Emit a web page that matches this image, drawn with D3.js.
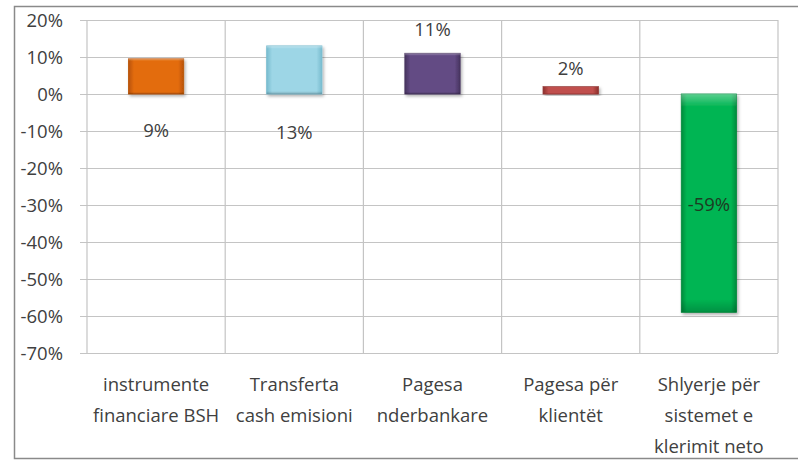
<!DOCTYPE html>
<html>
<head>
<meta charset="utf-8">
<script src="https://cdn.jsdelivr.net/npm/d3@7"></script>
<style>
  body { margin: 0; background: #fff; }
  text { font-family: "Open Sans", Lato, sans-serif; fill: #404040; }
</style>
</head>
<body>
<div id="chart"></div>
<script>
// categories (x axis), one label line per entry
var categories = [
  ["instrumente", "financiare BSH"],
  ["Transferta", "cash emisioni"],
  ["Pagesa", "nderbankare"],
  ["Pagesa për", "klientët"],
  ["Shlyerje për", "sistemet e", "klerimit neto"]
];
var values = [9.5, 13, 11, 2, -59];
var valueLabels = ["9%", "13%", "11%", "2%", "-59%"];
var yTicks = [20, 10, 0, -10, -20, -30, -40, -50, -60, -70];

// where excel put each data label (in axis units)
var labelAt = [-10, -10.5, 17.3, 6.8, -30];

var barColors = [
  ["#b85206", "#f08a2c", "#e36c0a"],
  ["#78bccf", "#c2e8f2", "#9dd6e6"],
  ["#46335f", "#8a74ad", "#634b84"],
  ["#8e302d", "#dc7672", "#c0504d"],
  ["#008a3c", "#3ad67a", "#00b552"]
];

var W = 798, H = 460;
var plotLeft = 87, plotRight = 778, plotTop = 20, plotBottom = 353;
var fontSize = "18.5px";

var svg = d3.select("#chart").append("svg")
  .attr("width", W).attr("height", H);

// outer frame
svg.append("rect")
  .attr("x", 14.5).attr("y", 6.5)
  .attr("width", W + 10).attr("height", 452)
  .attr("fill", "none").attr("stroke", "#8a8a8a").attr("stroke-width", 1.5);

var x = d3.scaleBand()
  .domain(d3.range(categories.length))
  .range([plotLeft, plotRight])
  .padding(0);

var y = d3.scaleLinear()
  .domain([-70, 20])
  .range([plotBottom, plotTop]);

// gradients + shadow
var defs = svg.append("defs");
barColors.forEach(function(c, i) {
  var g = defs.append("linearGradient")
    .attr("id", "grad" + i)
    .attr("x1", "0").attr("x2", "1").attr("y1", "0").attr("y2", "0");
  g.append("stop").attr("offset", "0").attr("stop-color", c[0]);
  g.append("stop").attr("offset", "0.1").attr("stop-color", c[2]);
  g.append("stop").attr("offset", "0.9").attr("stop-color", c[2]);
  g.append("stop").attr("offset", "1").attr("stop-color", c[0]);
});
var bevel = defs.append("linearGradient")
  .attr("id", "bevel")
  .attr("x1", "0").attr("x2", "0").attr("y1", "0").attr("y2", "1");
bevel.append("stop").attr("offset", "0").attr("stop-color", "#fff").attr("stop-opacity", 0.35);
bevel.append("stop").attr("offset", "0.06").attr("stop-color", "#fff").attr("stop-opacity", 0);
bevel.append("stop").attr("offset", "0.94").attr("stop-color", "#000").attr("stop-opacity", 0);
bevel.append("stop").attr("offset", "1").attr("stop-color", "#000").attr("stop-opacity", 0.2);
defs.append("filter").attr("id", "shadow")
  .attr("x", "-20%").attr("y", "-20%").attr("width", "140%").attr("height", "140%")
  .append("feDropShadow")
  .attr("dx", 1.5).attr("dy", 2).attr("stdDeviation", 1.5)
  .attr("flood-color", "#000").attr("flood-opacity", 0.3);

// y axis + horizontal gridlines
var yAxis = svg.append("g")
  .attr("transform", "translate(80,0)")
  .call(d3.axisLeft(y)
    .tickValues(yTicks)
    .tickSize(-(plotRight - 80))
    .tickPadding(17)
    .tickFormat(function(d) { return d + "%"; }));
yAxis.select(".domain").remove();
yAxis.selectAll("line").attr("stroke", "#c4c4c4").attr("stroke-width", 1.2);
yAxis.selectAll("text")
  .style("font-size", fontSize)
  .style("font-family", "'Open Sans', sans-serif")
  .attr("fill", "#404040")
  .attr("dy", "0.35em");

// vertical gridlines at category edges
var edges = d3.range(categories.length).map(function(i) { return x(i); }).concat([plotRight]);
svg.append("g").selectAll("line")
  .data(edges)
  .enter().append("line")
  .attr("x1", function(d) { return d; })
  .attr("x2", function(d) { return d; })
  .attr("y1", plotTop).attr("y2", plotBottom)
  .attr("stroke", "#c4c4c4").attr("stroke-width", 1.2);

// bars
var bw = x.bandwidth() * 0.4;
var bars = svg.append("g").selectAll("g")
  .data(values)
  .enter().append("g")
  .attr("filter", "url(#shadow)");
function barAttrs(sel) {
  sel.attr("x", function(d, i) { return x(i) + (x.bandwidth() - bw) / 2; })
    .attr("y", function(d) { return y(Math.max(0, d)); })
    .attr("width", bw)
    .attr("height", function(d) { return Math.abs(y(d) - y(0)); });
}
bars.append("rect")
  .call(barAttrs)
  .attr("fill", function(d, i) { return "url(#grad" + i + ")"; })
  .attr("stroke", function(d, i) { return barColors[i][0]; })
  .attr("stroke-width", 0.8);
bars.append("rect")
  .call(barAttrs)
  .attr("fill", "url(#bevel)");

// data labels
svg.append("g").selectAll("text")
  .data(valueLabels)
  .enter().append("text")
  .attr("x", function(d, i) { return x(i) + x.bandwidth() / 2; })
  .attr("y", function(d, i) { return y(labelAt[i]); })
  .attr("dy", "0.35em")
  .attr("text-anchor", "middle")
  .style("font-size", fontSize)
  .style("fill", function(d, i) { return i === 4 ? "#1d3b22" : "#404040"; })
  .text(function(d) { return d; });

// category labels
var cat = svg.append("g").selectAll("text")
  .data(categories)
  .enter().append("text")
  .attr("text-anchor", "middle")
  .style("font-size", fontSize);
cat.selectAll("tspan")
  .data(function(d, i) { return d.map(function(s) { return {s: s, i: i}; }); })
  .enter().append("tspan")
  .attr("x", function(d) { return x(d.i) + x.bandwidth() / 2; })
  .attr("y", function(d, j) { return 385 + j * 31; })
  .attr("dy", "0.35em")
  .text(function(d) { return d.s; });
</script>
</body>
</html>
